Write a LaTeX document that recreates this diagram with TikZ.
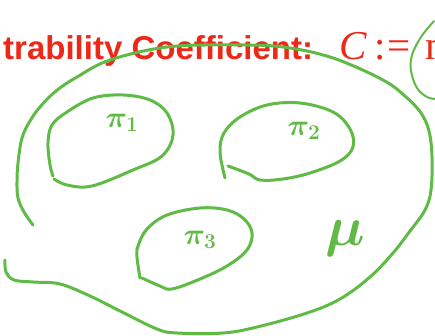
\documentclass[tikz,border=0pt]{standalone}
\usepackage{fix-cm}
\usepackage{fontspec}
\newfontfamily\headfont{Liberation Sans}
\newfontfamily\formfont{Liberation Serif}
\definecolor{inkgreen}{RGB}{96,186,70}
\definecolor{headred}{RGB}{236,40,24}
\begin{document}
\begin{tikzpicture}[line join=round, line cap=round, x=1pt, y=-1pt]
	\tikzset{pen/.style={draw=inkgreen, line width=3pt}, hand/.style={text=inkgreen, inner sep=0pt, font=\boldmath\fontsize{30}{32}\selectfont}}
	\def\pw{435} \def\ph{336}
	\useasboundingbox (0,0) rectangle (\pw,\ph);
	\clip (0,0) rectangle (\pw,\ph);
	% heading, cut at both sides
	\node[anchor=base west, inner sep=0pt, text=headred, font=\headfont\bfseries\fontsize{33}{36}\selectfont] (title) at (3,60) {trability Coefficient:};
	\node[anchor=base west, inner sep=0pt, text=headred, font=\formfont\fontsize{41}{44}\selectfont] (coef) at (339,60) {\itshape C\upshape\hspace{8pt}:\hspace{2pt}=};
	\node[anchor=base west, inner sep=0pt, text=headred, font=\formfont\fontsize{41}{44}\selectfont] (maxop) at (425,60) {max};
	% outer set
	\draw[pen] plot[smooth, tension=0.6] coordinates {(33,225) (24,212) (18,198) (17,182) (18,163) (22,138) (30,121) (40,107) (56,91) (77,77) (110,60) (167,47) (233,45) (283,47) (333,58) (383,80) (406,97) (421,113) (429,131) (432,157) (431,190) (425,210) (410,231) (393,253) (370,277) (340,299) (307,313) (257,327) (223,333) (177,333) (157,329) (122,312) (90,296) (60,284) (33,282) (14,280) (6,272) (5,260)};
	% small sets
	\draw[pen] plot[smooth, tension=0.6] coordinates {(53,176) (50,165) (48,143) (52,125) (67,112) (93,98) (123,95) (150,100) (167,113) (173,135) (162,156) (133,170) (92,186) (67,185) (54,179)};
	\draw[pen] plot[smooth, tension=0.6] coordinates {(225,178) (220,152) (224,133) (240,117) (267,105) (300,103) (333,112) (350,129) (353,147) (340,161) (310,173) (283,179) (260,180) (249,174) (228,166)};
	\draw[pen] plot[smooth, tension=0.6] coordinates {(140,278) (137,257) (138,246) (147,229) (167,215) (200,208) (227,210) (244,219) (252,233) (247,250) (227,266) (200,279) (172,289) (160,286) (142,278)};
	% bracket round the formula
	\draw[draw=inkgreen, line width=2pt] plot[smooth, tension=0.6] coordinates {(434,21) (421,37) (412,55) (411,71) (417,88) (427,97) (436,99)};
	% labels
	\node[hand] (pione) at (122,123) {$\pi_1$};
	\node[hand] (pitwo) at (304,131) {$\pi_2$};
	\node[hand] (pithree) at (200,240) {$\pi_3$};
	\node[hand, font=\boldmath\fontsize{56}{60}\selectfont] (mu) at (345,238) {$\mu$};
\end{tikzpicture}
\end{document}
